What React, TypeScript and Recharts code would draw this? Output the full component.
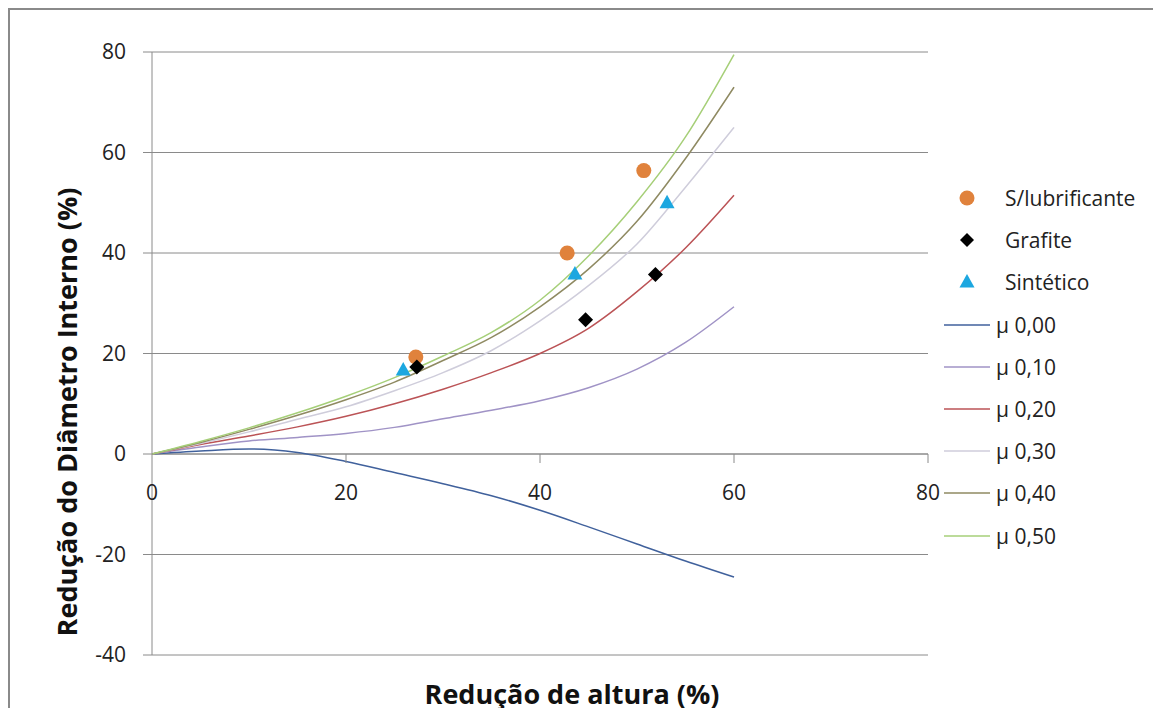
import { ComposedChart, Line, Scatter, XAxis, YAxis, CartesianGrid, ReferenceLine } from 'recharts'

// redução de altura (%) - pontos das curvas teóricas
const alturaCurvas = [0, 5, 10, 15, 20, 25, 30, 35, 40, 45, 50, 55, 60]

// redução do diâmetro interno (%) para cada coeficiente de atrito
const mu000 = [0, 0.6, 1.0, 0.3, -1.5, -3.7, -5.9, -8.3, -11.2, -14.5, -17.9, -21.3, -24.5]
const mu010 = [0, 1.4, 2.6, 3.3, 4.1, 5.3, 7.0, 8.7, 10.6, 13.2, 16.9, 22.2, 29.3]
const mu020 = [0, 1.9, 3.6, 5.4, 7.5, 10.0, 12.9, 16.2, 20.0, 25.0, 32.3, 41.0, 51.5]
const mu030 = [0, 2.1, 4.4, 6.9, 9.4, 12.6, 16.2, 20.6, 26.5, 33.5, 41.8, 53.1, 65.0]
const mu040 = [0, 2.3, 4.9, 7.7, 10.8, 14.3, 18.6, 23.2, 29.3, 36.8, 46.3, 58.8, 73.0]
const mu050 = [0, 2.5, 5.2, 8.2, 11.5, 15.2, 19.5, 24.2, 30.6, 39.4, 50.2, 63.1, 79.5]

// ensaios
const semLubX = [27.2, 42.8, 50.7]
const semLubY = [19.3, 40.0, 56.4]
const grafiteX = [27.3, 44.7, 51.9]
const grafiteY = [17.3, 26.7, 35.7]
const sinteticoX = [25.9, 43.6, 53.1]
const sinteticoY = [16.7, 35.8, 50.0]

const muNames = ['µ 0,00', 'µ 0,10', 'µ 0,20', 'µ 0,30', 'µ 0,40', 'µ 0,50']
const muValues = [mu000, mu010, mu020, mu030, mu040, mu050]
const xTicks = [0, 20, 40, 60, 80]
const yTicks = [-40, -20, 0, 20, 40, 60, 80]

const MU_COLORS = ['#40619c', '#a093c6', '#bb5356', '#cfcddb', '#8f8a62', '#a6cf78']
const ORANGE = '#e0823c'
const CYAN = '#1ca7e0'
const AXIS = '#8a8a8a'
const FONT = '"Open Sans", "DejaVu Sans", sans-serif'

const W = 1140
const H = 690
const MARGIN = { top: 42, right: 222, bottom: 15, left: 82 }
const PLOT_H = H - MARGIN.top - MARGIN.bottom - 30
const Y_MIN = -40
const Y_MAX = 80
const ZERO_Y = MARGIN.top + PLOT_H * (Y_MAX / (Y_MAX - Y_MIN))

const toPoints = (xs: number[], ys: number[]) => xs.map((x, i) => ({ x, y: ys[i] }))

const muSeries = muNames.map((name, i) => ({
  name,
  data: toPoints(alturaCurvas, muValues[i]),
  color: MU_COLORS[i],
}))

const XTick = ({ x, payload }: any) => (
  <g>
    {payload.value !== 0 && <line x1={x} x2={x} y1={ZERO_Y} y2={ZERO_Y + 9} stroke={AXIS} />}
    <text x={x} y={ZERO_Y + 46} textAnchor='middle' fill='#222' fontSize={21} fontFamily={FONT}>
      {payload.value}
    </text>
  </g>
)

const Circle = ({ cx, cy }: any) => <circle cx={cx} cy={cy} r={7.5} fill={ORANGE} />
const Diamond = ({ cx, cy }: any) => (
  <polygon points={`${cx},${cy - 7.5} ${cx + 7.5},${cy} ${cx},${cy + 7.5} ${cx - 7.5},${cy}`} fill='#000' />
)
const Triangle = ({ cx, cy }: any) => (
  <polygon points={`${cx},${cy - 8} ${cx + 7.5},${cy + 5.5} ${cx - 7.5},${cy + 5.5}`} fill={CYAN} />
)

const markerRows = [
  { name: 'S/lubrificante', icon: <circle cx={25} cy={11} r={7.5} fill={ORANGE} /> },
  { name: 'Grafite', icon: <polygon points='25,4 32,11 25,18 18,11' fill='#000' /> },
  { name: 'Sintético', icon: <polygon points='25,3 32.5,16.5 17.5,16.5' fill={CYAN} /> },
]

// legenda fora do gráfico para não roubar espaço da área de plotagem
const ChartLegend = () => (
  <div style={{ position: 'absolute', left: 932, top: 167, fontFamily: FONT, fontSize: 21, color: '#222' }}>
    {markerRows.map((r) => (
      <div key={r.name} style={{ display: 'flex', alignItems: 'center', height: 42.2 }}>
        <svg width={50} height={22} style={{ marginRight: 13 }}>{r.icon}</svg>
        <span>{r.name}</span>
      </div>
    ))}
    {muSeries.map((s) => (
      <div key={s.name} style={{ display: 'flex', alignItems: 'center', height: 42.2 }}>
        <svg width={50} height={22} style={{ marginRight: 4 }}>
          <line x1={2} x2={48} y1={11} y2={11} stroke={s.color} strokeWidth={1.5} />
        </svg>
        <span>{s.name}</span>
      </div>
    ))}
  </div>
)

export default function App() {
  return (
    <div
      style={{
        position: 'relative',
        width: 1153,
        height: 700,
        borderLeft: `2px solid ${AXIS}`,
        borderTop: `2px solid ${AXIS}`,
        boxSizing: 'border-box',
        background: '#fff',
      }}>
      <ComposedChart width={W} height={H} margin={MARGIN}>
        <CartesianGrid vertical={false} stroke={AXIS} />
        <XAxis
          type='number'
          dataKey='x'
          domain={[0, 80]}
          ticks={xTicks}
          axisLine={false}
          tickLine={false}
          tick={<XTick />}
          height={30}
          allowDataOverflow
        />
        <YAxis
          type='number'
          domain={[Y_MIN, Y_MAX]}
          ticks={yTicks}
          width={60}
          stroke={AXIS}
          tickSize={9}
          tickMargin={17}
          tick={{ fill: '#222', fontSize: 21, fontFamily: FONT }}
          allowDataOverflow
        />
        <ReferenceLine y={0} stroke={AXIS} />
        {muSeries.map((s) => (
          <Line
            key={s.name}
            data={s.data}
            dataKey='y'
            name={s.name}
            type='monotone'
            stroke={s.color}
            strokeWidth={1.5}
            dot={false}
            isAnimationActive={false}
          />
        ))}
        <Scatter name='S/lubrificante' data={toPoints(semLubX, semLubY)} dataKey='y' shape={Circle} isAnimationActive={false} />
        <Scatter name='Grafite' data={toPoints(grafiteX, grafiteY)} dataKey='y' shape={Diamond} isAnimationActive={false} />
        <Scatter name='Sintético' data={toPoints(sinteticoX, sinteticoY)} dataKey='y' shape={Triangle} isAnimationActive={false} />
      </ComposedChart>
      <ChartLegend />
      <div
        style={{
          position: 'absolute',
          left: 56,
          top: 402,
          transform: 'translate(-50%, -50%) rotate(-90deg)',
          whiteSpace: 'nowrap',
          fontFamily: FONT,
          fontWeight: 700,
          fontSize: 27,
          color: '#111',
        }}>
        Redução do Diâmetro Interno (%)
      </div>
      <div
        style={{
          position: 'absolute',
          left: 562,
          top: 683,
          transform: 'translate(-50%, -50%)',
          whiteSpace: 'nowrap',
          fontFamily: FONT,
          fontWeight: 700,
          fontSize: 27,
          color: '#111',
        }}>
        Redução de altura (%)
      </div>
    </div>
  )
}
